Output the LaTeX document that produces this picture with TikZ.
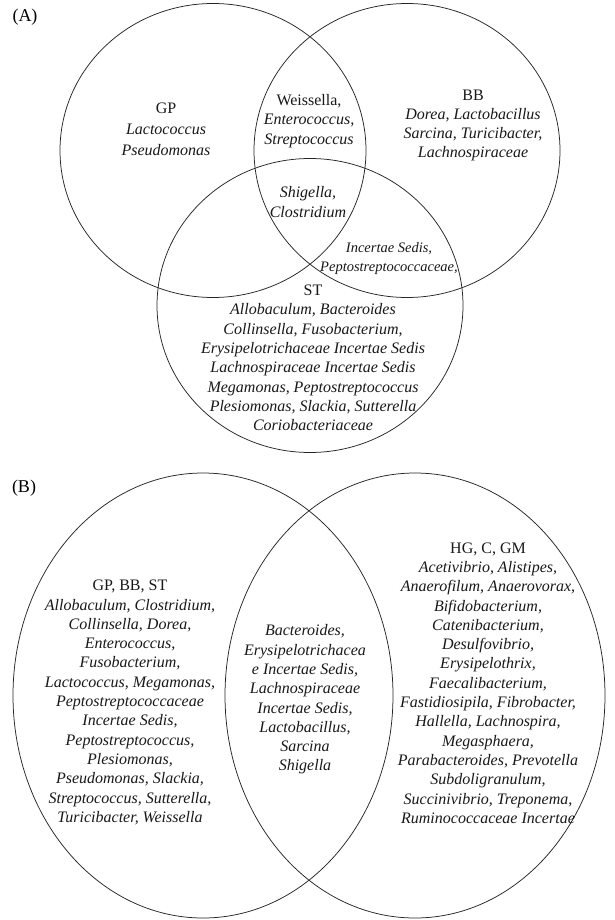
\documentclass[tikz,border=0pt]{standalone}
\usepackage{fontspec}
\setmainfont{Liberation Serif}
\begin{document}
\begin{tikzpicture}[x=1pt,y=-1pt,
  venn/.style={draw=black!85, line width=0.75pt},
  lab/.style={font=\fontsize{16}{19.3}\selectfont, align=center, inner sep=0pt, text=black!90},
  labwide/.style={lab, font=\fontsize{16}{21.2}\selectfont},
  small/.style={font=\fontsize{14.5}{18.5}\selectfont, align=center, inner sep=0pt, text=black!90},
  panel/.style={font=\fontsize{18}{20}\selectfont, inner sep=0pt}]
\useasboundingbox (0,0) rectangle (615,920);
\fill[white] (0,0) rectangle (615,920);
% ---------- panel A ----------
\node[panel] (pa) at (25,17) {(A)};
\coordinate (gp) at (213,150.5);
\coordinate (bb) at (407,150.5);
\coordinate (st) at (310,305.5);
\draw[venn] (gp) ellipse [x radius=153pt, y radius=147pt];
\draw[venn] (bb) ellipse [x radius=153pt, y radius=147pt];
\draw[venn] (st) ellipse [x radius=153pt, y radius=147pt];
\node[labwide] (tgp) at (166,129) {GP\\ \textit{Lactococcus}\\ \textit{Pseudomonas}};
\node[lab] (tgb) at (309,121) {Weissella,\\ \textit{Enterococcus,}\\ \textit{Streptococcus}};
\node[lab] (tbb) at (473,125.5) {BB\\ \textit{Dorea, Lactobacillus}\\ \textit{Sarcina, Turicibacter,}\\ \textit{Lachnospiraceae}};
\node[lab] (tall) at (308,202) {\textit{Shigella,}\\ \textit{Clostridium}};
\node[small] (tbs) at (389,258.5) {\textit{Incertae Sedis,}\\ \textit{Peptostreptococcaceae,}};
\node[lab] (tst) at (313,358) {ST\\ \textit{Allobaculum, Bacteroides}\\ \textit{Collinsella, Fusobacterium,}\\ \textit{Erysipelotrichaceae Incertae Sedis}\\ \textit{Lachnospiraceae Incertae Sedis}\\ \textit{Megamonas, Peptostreptococcus}\\ \textit{Plesiomonas, Slackia, Sutterella}\\ \textit{Coriobacteriaceae}};
% ---------- panel B ----------
\node[panel] (pb) at (24,488) {(B)};
\coordinate (l) at (203,695.5);
\coordinate (r) at (415,695.5);
\draw[venn] (l) ellipse [x radius=190pt, y radius=222.5pt];
\draw[venn] (r) ellipse [x radius=190pt, y radius=222.5pt];
\node[lab] (tl) at (130,702.5) {GP, BB, ST\\ \textit{Allobaculum, Clostridium,}\\ \textit{Collinsella, Dorea,}\\ \textit{Enterococcus,}\\ \textit{Fusobacterium,}\\ \textit{Lactococcus, Megamonas,}\\ \textit{Peptostreptococcaceae}\\ \textit{Incertae Sedis,}\\ \textit{Peptostreptococcus,}\\ \textit{Plesiomonas,}\\ \textit{Pseudomonas, Slackia,}\\ \textit{Streptococcus, Sutterella,}\\ \textit{Turicibacter, Weissella}};
\node[lab] (tm) at (305,699.5) {\textit{Bacteroides,}\\ \textit{Erysipelotrichacea}\\ \textit{e Incertae Sedis,}\\ \textit{Lachnospiraceae}\\ \textit{Incertae Sedis,}\\ \textit{Lactobacillus,}\\ \textit{Sarcina}\\ \textit{Shigella}};
\node[lab] (tr) at (488,683) {HG, C, GM\\ \textit{Acetivibrio, Alistipes,}\\ \textit{Anaerofilum, Anaerovorax,}\\ \textit{Bifidobacterium,}\\ \textit{Catenibacterium,}\\ \textit{Desulfovibrio,}\\ \textit{Erysipelothrix,}\\ \textit{Faecalibacterium,}\\ \textit{Fastidiosipila, Fibrobacter,}\\ \textit{Hallella, Lachnospira,}\\ \textit{Megasphaera,}\\ \textit{Parabacteroides, Prevotella}\\ \textit{Subdoligranulum,}\\ \textit{Succinivibrio, Treponema,}\\ \textit{Ruminococcaceae Incertae}};
\end{tikzpicture}
\end{document}
